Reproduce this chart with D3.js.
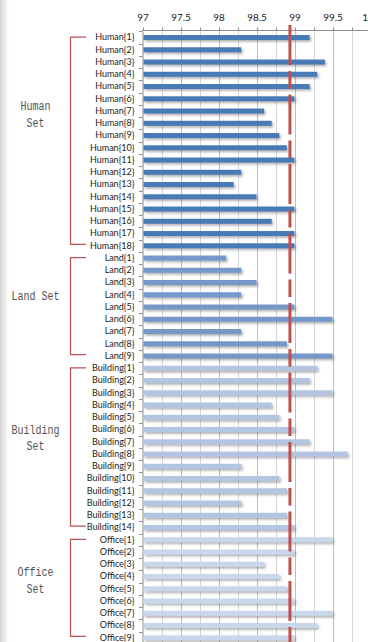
<!DOCTYPE html>
<html>
<head>
<meta charset="utf-8">
<script src="https://cdn.jsdelivr.net/npm/d3@7/dist/d3.min.js"></script>
<style>
  html, body { margin: 0; padding: 0; background: #fff; overflow: hidden; }
  svg { display: block; }
</style>
</head>
<body>
<div id="chart"></div>
<script>
// Accuracy per sample, grouped into four sets
const humanVals    = [99.2, 98.3, 99.4, 99.3, 99.2, 99.0, 98.6, 98.7, 98.8, 98.9, 99.0, 98.3, 98.2, 98.5, 99.0, 98.7, 99.0, 99.0];
const landVals     = [98.1, 98.3, 98.5, 98.3, 99.0, 99.5, 98.3, 98.9, 99.5];
const buildingVals = [99.3, 99.2, 99.5, 98.7, 98.8, 99.0, 99.2, 99.7, 98.3, 98.8, 98.9, 98.3, 98.9, 99.0];
const officeVals   = [99.5, 99.0, 98.6, 98.8, 98.9, 99.0, 99.5, 99.3, 99.0];

const groupNames  = ["Human", "Land", "Building", "Office"];
const groupTitles = [["Human", "Set"], ["Land Set"], ["Building", "Set"], ["Office", "Set"]];
const groupColors = ["#4a7ab8", "#7398c9", "#b3c5e0", "#c8d7ea"];

const tickValues = [97, 97.5, 98, 98.5, 99, 99.5, 100];
const tickLabels = ["97", "97.5", "98", "98.5", "99", "99.5", "100"];
const threshold = 98.94;

// layout: first-line baseline of each set title, relative to the bracket top
const titleOffsets = [73, 42, 66, 37];

const W = 368, H = 642;
const groupVals = [humanVals, landVals, buildingVals, officeVals];

// flatten into rows
const rows = [];
groupVals.forEach((vals, g) => {
  vals.forEach((v, i) => rows.push({ group: g, label: `${groupNames[g]}{${i + 1}}`, value: v }));
});

const svg = d3.select("#chart").append("svg").attr("width", W).attr("height", H);

// soft shading along the left edge
const defs = svg.append("defs");
const lg = defs.append("linearGradient").attr("id", "edge").attr("x1", 0).attr("x2", 1);
lg.append("stop").attr("offset", 0).attr("stop-color", "#d4d4d4");
lg.append("stop").attr("offset", 1).attr("stop-color", "#ffffff");
svg.append("rect").attr("x", 0).attr("y", 0).attr("width", 9).attr("height", H).attr("fill", "url(#edge)");

// bar drop shadow
const f = defs.append("filter").attr("id", "shadow").attr("x", "-5%").attr("y", "-80%").attr("width", "115%").attr("height", "300%");
f.append("feDropShadow").attr("dx", 1.5).attr("dy", 1.8).attr("stdDeviation", 0.8)
  .attr("flood-color", "#555").attr("flood-opacity", 0.45);

const x = d3.scaleLinear().domain([97, 100]).range([142.5, 370.5]);
const y = d3.scaleBand().domain(rows.map(d => d.label)).range([31.4, 31.4 + rows.length * 12.25]).padding(0);

// vertical gridlines every 0.25
const gridVals = d3.range(97.25, 100.01, 0.25);
svg.append("g").selectAll("line").data(gridVals).join("line")
  .attr("x1", d => Math.round(x(d)) + 0.5).attr("x2", d => Math.round(x(d)) + 0.5)
  .attr("y1", 30).attr("y2", H)
  .attr("stroke", d => (Math.abs(d * 2 - Math.round(d * 2)) < 1e-6 ? "#bdbdbd" : "#d6d6d6"))
  .attr("stroke-width", 1);

// top axis
const topAxis = d3.axisTop(x).tickValues(tickValues).tickFormat((d, i) => tickLabels[i]).tickSize(0).tickPadding(10);
const gTop = svg.append("g").attr("transform", "translate(0,30.5)").call(topAxis);
gTop.select(".domain").remove();
gTop.selectAll("text").attr("font-family", "Lato, 'Open Sans', sans-serif").attr("font-size", 10).attr("fill", "#222");
svg.append("line").attr("x1", 142).attr("x2", W).attr("y1", 30.5).attr("y2", 30.5).attr("stroke", "#8c8c8c");
svg.append("g").selectAll("line").data(gridVals.concat([97])).join("line")
  .attr("x1", d => Math.round(x(d)) + 0.5).attr("x2", d => Math.round(x(d)) + 0.5)
  .attr("y1", 27.5).attr("y2", 30.5).attr("stroke", "#8c8c8c");

// left axis with tick marks at band edges
const leftAxis = d3.axisLeft(y).tickSize(0).tickPadding(8);
const gLeft = svg.append("g").attr("transform", "translate(142.5,0)").call(leftAxis);
gLeft.select(".domain").attr("stroke", "#8c8c8c");
gLeft.selectAll("text").attr("font-family", "Lato, 'Open Sans', sans-serif").attr("font-size", 9).attr("fill", "#222");
const edges = rows.map(d => y(d.label)).concat([y(rows[rows.length - 1].label) + y.bandwidth()]);
svg.append("g").selectAll("line").data(edges).join("line")
  .attr("x1", 139).attr("x2", 142.5)
  .attr("y1", d => Math.round(d) + 0.5).attr("y2", d => Math.round(d) + 0.5)
  .attr("stroke", "#8c8c8c");

// bars
const barH = 5;
svg.append("g").selectAll("rect").data(rows).join("rect")
  .attr("x", x(97) + 1)
  .attr("y", d => y(d.label) + y.bandwidth() / 2 - barH / 2)
  .attr("width", d => x(d.value) - x(97) - 1)
  .attr("height", barH)
  .attr("fill", d => groupColors[d.group])
  .attr("filter", "url(#shadow)");

// threshold line
svg.append("line")
  .attr("x1", x(threshold)).attr("x2", x(threshold))
  .attr("y1", 25).attr("y2", H)
  .attr("stroke", "#c0504d").attr("stroke-width", 3)
  .attr("stroke-dasharray", "40,6,17.5,6");

// group brackets and titles
let start = 0;
groupVals.forEach((vals, g) => {
  const first = rows[start], last = rows[start + vals.length - 1];
  const y0 = y(first.label) + y.bandwidth() / 2 - 0.5;
  const y1 = y(last.label) + y.bandwidth() / 2 - 1.5;
  svg.append("path")
    .attr("d", `M86,${y0}H70.5V${y1}H86`)
    .attr("fill", "none").attr("stroke", "#c0504d").attr("stroke-width", 1.2);
  const lines = groupTitles[g];
  lines.forEach((t, k) => {
    svg.append("text")
      .attr("x", 35.5)
      .attr("y", y0 + titleOffsets[g] + k * 16.5)
      .attr("text-anchor", "middle")
      .attr("font-family", "'Liberation Mono', 'DejaVu Sans Mono', monospace")
      .attr("font-size", 12.5)
      .attr("fill", "#555")
      .attr("textLength", t.length * 6)
      .attr("lengthAdjust", "spacingAndGlyphs")
      .text(t);
  });
  start += vals.length;
});
</script>
</body>
</html>
